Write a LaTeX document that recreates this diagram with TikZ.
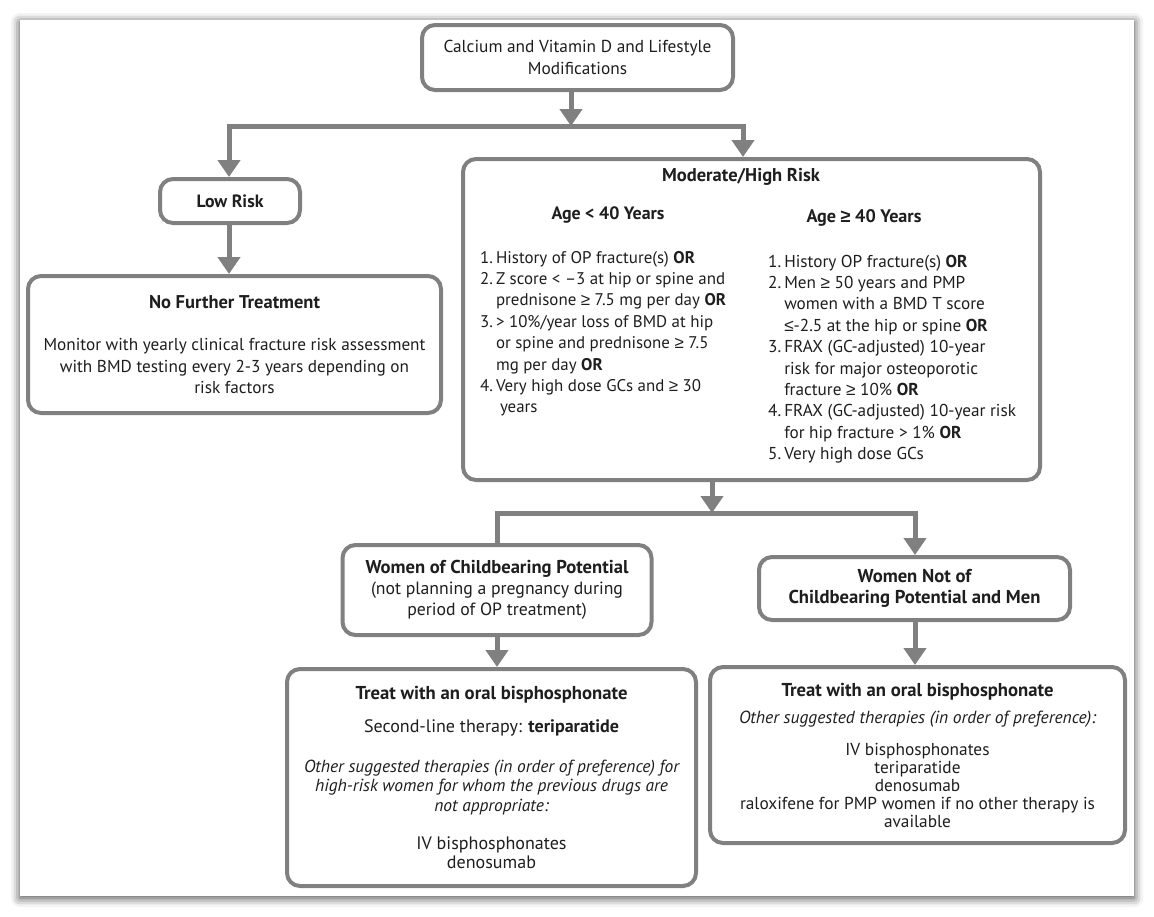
\documentclass[tikz,border=0pt]{standalone}
\usepackage{fontspec}
\setmainfont{PT Sans}
\newfontfamily\symf{Liberation Sans}
\usetikzlibrary{arrows.meta,shadows.blur}
\definecolor{lg}{HTML}{808080}
\definecolor{tx}{HTML}{1E1E1E}
\newcommand{\GE}{{\symf ≥}}
\newcommand{\LE}{{\symf ≤}}
\newsavebox{\fitbx}
\newlength{\fitlen}
\newcommand{\getfit}[3]{%
  \sbox{\fitbx}{\fontsize{10pt}{12pt}\selectfont #3}%
  \setlength{\fitlen}{\wd\fitbx}%
  \pgfmathsetmacro{#1}{10*#2/\fitlen}}
\newcommand{\usesz}[2]{\fontsize{#1pt}{#2}\selectfont}
\newcommand{\normls}{\lineskiplimit=0pt\relax\lineskip=1pt\relax}
\begin{document}%
\lineskiplimit=-30pt\relax\lineskip=0pt\relax%
\getfit{\szTop}{268}{Calcium and Vitamin D and Lifestyle}%
\getfit{\szLow}{67}{\bfseries Low Risk}%
\getfit{\szNftB}{171}{\bfseries No Further Treatment}%
\getfit{\szNft}{382}{Monitor with yearly clinical fracture risk assessment}%
\getfit{\szModB}{158}{\bfseries Moderate/High Risk}%
\getfit{\szAgeA}{113}{\bfseries Age < 40 Years}%
\getfit{\szAgeB}{115}{\bfseries Age \GE{} 40 Years}%
\getfit{\szListA}{247}{2.\hspace{3pt}Z score < –3 at hip or spine and}%
\getfit{\szListB}{250}{4.\hspace{3pt}FRAX (GC-adjusted) 10-year risk}%
\getfit{\szWcpB}{263}{\bfseries Women of Childbearing Potential}%
\getfit{\szWcp}{252}{(not planning a pregnancy during}%
\getfit{\szWnc}{252}{\bfseries Childbearing Potential and Men}%
\getfit{\szTlB}{272}{\bfseries Treat with an oral bisphosphonate}%
\getfit{\szTl}{255}{Second-line therapy: \textbf{teriparatide}}%
\getfit{\szTlI}{375}{\itshape Other suggested therapies (in order of preference) for}%
\getfit{\szTrB}{272}{\bfseries Treat with an oral bisphosphonate}%
\getfit{\szTrI}{357}{\itshape Other suggested therapies (in order of preference):}%
\getfit{\szTr}{355}{raloxifene for PMP women if no other therapy is}%
\begin{tikzpicture}[x=1pt,y=-1pt,
  box/.style={draw=lg, line width=4pt, rounded corners=13pt, fill=white, align=center, text=tx, inner sep=0pt},
  conn/.style={draw=lg, line width=5pt, line join=miter},
  arr/.style={conn, -{Triangle[width=22pt,length=17pt]}},
  txt/.style={text=tx, inner sep=0pt}]
\useasboundingbox (0,0) rectangle (1154,916);
% page with shadow
\fill[white, blur shadow={shadow xshift=0pt, shadow yshift=-2pt, shadow blur radius=9pt, shadow opacity=75}] (20,20) rectangle (1134,896);

% boxes
\node[box, font=\usesz{\szTop}{22.5pt}, minimum width=311pt, minimum height=65pt] (top) at (577.5,57.5)
  {Calcium and Vitamin D and Lifestyle\\Modifications};
\node[box, font=\usesz{\szLow}{21pt}\bfseries, minimum width=140pt, minimum height=44pt] (low) at (230,201)
  {Low Risk};
\node[box, font=\usesz{\szNft}{21.5pt}, minimum width=413pt, minimum height=137pt] (nft) at (234.5,344.5)
  {{\usesz{\szNftB}{21.5pt}\bfseries No Further Treatment}\\[21pt]
   Monitor with yearly clinical fracture risk assessment\\
   with BMD testing every 2-3 years depending on\\
   risk factors};
\node[box, minimum width=577pt, minimum height=321pt] (mod) at (751.5,319.5) {};
\node[box, font=\usesz{\szWcp}{21pt}, minimum width=309pt, minimum height=90pt] (wcp) at (497,590)
  {{\usesz{\szWcpB}{21pt}\bfseries Women of Childbearing Potential}\\
   (not planning a pregnancy during\\
   period of OP treatment)};
\node[box, font=\usesz{\szWnc}{21pt}\bfseries, minimum width=311pt, minimum height=63pt] (wnc) at (914.5,588.5)
  {Women Not of\\Childbearing Potential and Men};
\node[box, font=\usesz{\szTl}{19.5pt}, minimum width=409pt, minimum height=217pt] (tl) at (491.5,777.5)
  {{\usesz{\szTlB}{19.5pt}\bfseries Treat with an oral bisphosphonate}\\[13.5pt]
   Second-line therapy: \textbf{teriparatide}\\[20.5pt]
   {\usesz{\szTlI}{19.5pt}\itshape Other suggested therapies (in order of preference) for}\\
   {\usesz{\szTlI}{19.5pt}\itshape high-risk women for whom the previous drugs are}\\
   {\usesz{\szTlI}{19.5pt}\itshape not appropriate:}\\[18.5pt]
   IV bisphosphonates\\
   denosumab};
\node[box, font=\usesz{\szTr}{18pt}, minimum width=415pt, minimum height=176pt] (tr) at (917.5,755)
  {{\usesz{\szTrB}{18pt}\bfseries Treat with an oral bisphosphonate}\\[9pt]
   {\usesz{\szTrI}{18pt}\itshape Other suggested therapies (in order of preference):}\\[14pt]
   IV bisphosphonates\\
   teriparatide\\
   denosumab\\
   raloxifene for PMP women if no other therapy is\\
   available};

% moderate box contents
\node[txt, font=\usesz{\szModB}{21pt}\bfseries] (modt) at (741,177) {Moderate/High Risk};
\node[txt, font=\usesz{\szAgeA}{21pt}\bfseries] (agea) at (608,215) {Age < 40 Years};
\node[txt, font=\usesz{\szAgeB}{21pt}\bfseries] (ageb) at (864,218) {Age \GE{} 40 Years};
\node[txt, font=\usesz{\szListA}{21.4pt}, anchor=north west] (lista) at (480,248) {\normls
  \begin{tabular}{@{}l@{\hspace{3pt}}l@{}}
  1. & History of OP fracture(s) \textbf{OR}\\
  2. & Z score < –3 at hip or spine and\\
     & prednisone \GE{} 7.5 mg per day \textbf{OR}\\
  3. & > 10\%/year loss of BMD at hip\\
     & or spine and prednisone \GE{} 7.5\\
     & mg per day \textbf{OR}\\
  4. & Very high dose GCs and \GE{} 30\\
     & \hspace{4pt}years
  \end{tabular}};
\node[txt, font=\usesz{\szListB}{21.4pt}, anchor=north west] (listb) at (768,252) {\normls
  \begin{tabular}{@{}l@{\hspace{3pt}}l@{}}
  1. & History OP fracture(s) \textbf{OR}\\
  2. & Men \GE{} 50 years and PMP\\
     & women with a BMD T score\\
     & \LE{}-2.5 at the hip or spine \textbf{OR}\\
  3. & FRAX (GC-adjusted) 10-year\\
     & risk for major osteoporotic\\
     & fracture \GE{} 10\% \textbf{OR}\\
  4. & FRAX (GC-adjusted) 10-year risk\\
     & for hip fracture > 1\% \textbf{OR}\\
  5. & Very high dose GCs
  \end{tabular}};

% connectors
\coordinate (j1) at (571,126);
\coordinate (jl) at (229,126);
\coordinate (jr) at (743,126);
\coordinate (j2) at (712,513);
\coordinate (jb) at (497,513);
\coordinate (jc) at (915,513);
\draw[arr] (top.south -| j1) -- (j1);
\draw[arr] (j1) -- (jl) -- (jl |- low.north);
\draw[arr] (j1) -- (jr) -- (jr |- mod.north);
\draw[arr] (low.south -| jl) -- (jl |- nft.north);
\draw[arr] (mod.south -| j2) -- (j2);
\draw[conn] (j2) -- (jb) -- (wcp.north);
\draw[arr] (j2) -- (jc) -- (jc |- wnc.north);
\draw[arr] (wcp.south) -- (wcp.south |- tl.north);
\draw[arr] (wnc.south -| jc) -- (jc |- tr.north);
\end{tikzpicture}%
\end{document}
